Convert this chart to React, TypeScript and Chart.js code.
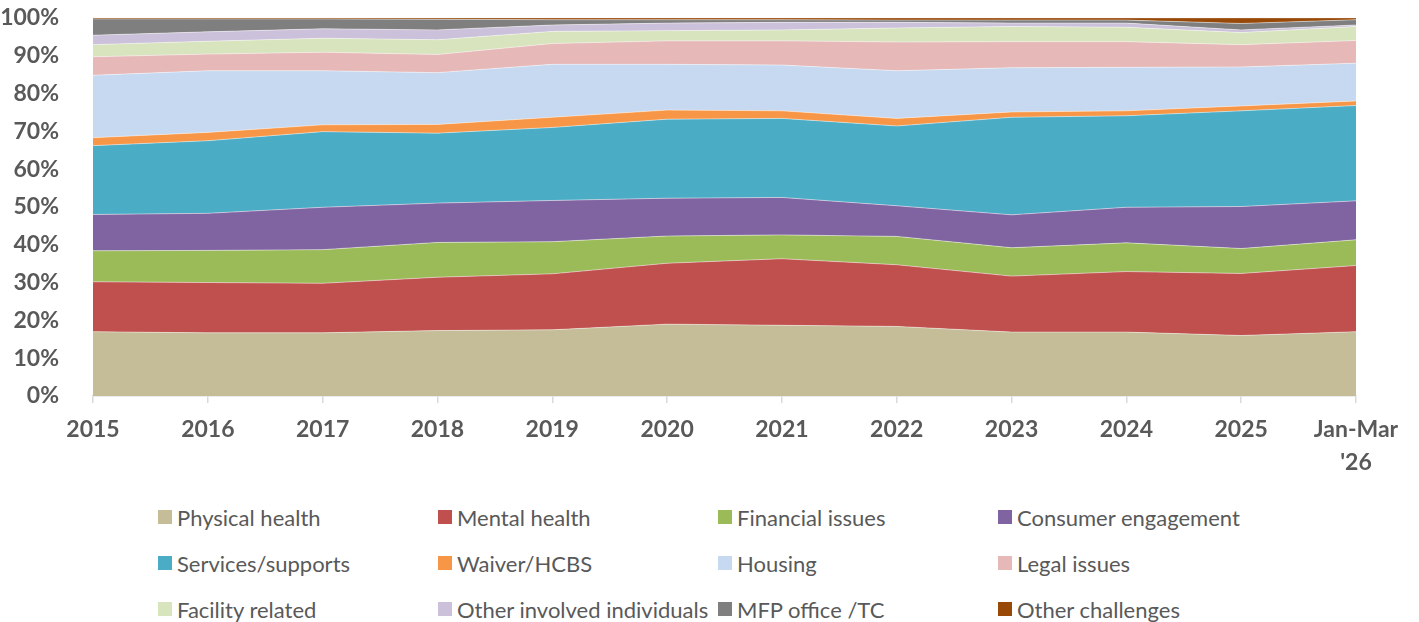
import React, { useEffect, useRef } from "react";
import { Chart, registerables } from "chart.js";

Chart.register(...registerables);

const categories: (string | string[])[] = [
  "2015", "2016", "2017", "2018", "2019", "2020", "2021", "2022", "2023", "2024", "2025", ["Jan-Mar", "'26"],
];

const physicalHealth = [17.0, 16.7, 16.7, 17.3, 17.5, 19.0, 18.7, 18.4, 16.9, 16.9, 16.0, 17.0];
const mentalHealth = [13.2, 13.3, 13.1, 14.1, 14.8, 16.1, 17.6, 16.3, 14.8, 16.0, 16.4, 17.5];
const financialIssues = [8.2, 8.5, 8.9, 9.2, 8.5, 7.2, 6.3, 7.5, 7.5, 7.6, 6.6, 6.8];
const consumerEngagement = [9.6, 9.8, 11.2, 10.4, 10.9, 10.0, 9.9, 8.1, 8.7, 9.4, 11.1, 10.3];
const servicesSupports = [18.2, 19.2, 20.0, 18.5, 19.3, 20.9, 20.9, 21.1, 25.8, 24.2, 25.3, 25.2];
const waiverHcbs = [2.1, 2.2, 1.8, 2.3, 2.7, 2.4, 2.0, 2.0, 1.4, 1.3, 1.3, 1.2];
const housing = [16.5, 16.3, 14.3, 13.7, 14.0, 12.1, 12.1, 12.6, 11.7, 11.5, 10.3, 10.0];
const legalIssues = [4.9, 4.4, 4.9, 4.8, 5.5, 6.2, 6.4, 7.6, 6.9, 6.8, 5.9, 6.0];
const facilityRelated = [3.2, 3.4, 3.7, 3.9, 3.2, 2.7, 2.9, 3.7, 4.0, 3.8, 3.2, 3.7];
const otherInvolved = [2.5, 2.5, 2.5, 2.6, 1.7, 2.0, 2.0, 1.5, 0.9, 1.1, 0.7, 0.4];
const mfpOffice = [4.3, 3.4, 2.6, 2.8, 1.4, 0.9, 0.7, 0.6, 0.8, 0.8, 1.7, 1.4];
const otherChallenges = [0.3, 0.3, 0.3, 0.4, 0.5, 0.5, 0.5, 0.6, 0.6, 0.6, 1.5, 0.5];

const seriesNames = [
  "Physical health", "Mental health", "Financial issues", "Consumer engagement",
  "Services/supports", "Waiver/HCBS", "Housing", "Legal issues",
  "Facility related", "Other involved individuals", "MFP office /TC", "Other challenges",
];
const seriesValues = [
  physicalHealth, mentalHealth, financialIssues, consumerEngagement,
  servicesSupports, waiverHcbs, housing, legalIssues,
  facilityRelated, otherInvolved, mfpOffice, otherChallenges,
];
const seriesColors = [
  "#C4BD97", "#C0504D", "#9BBB59", "#8064A2",
  "#4BACC6", "#F79646", "#C6D9F1", "#E6B9B8",
  "#D7E4BD", "#CCC1DA", "#7F7F7F", "#984807",
];

const yTicks = [0, 10, 20, 30, 40, 50, 60, 70, 80, 90, 100];

const FONT = "Lato, 'Open Sans', sans-serif";
const TEXT = "#595959";
const SHIFT = 22;

export default function App() {
  const canvasRef = useRef<HTMLCanvasElement | null>(null);

  useEffect(() => {
    const canvas = canvasRef.current;
    if (!canvas) return;
    const chart = new Chart(canvas, {
      type: "line",
      data: {
        labels: categories as any,
        datasets: seriesNames.map((name, i) => ({
          label: name,
          data: seriesValues[i],
          backgroundColor: seriesColors[i],
          borderColor: "rgba(255,255,255,0.45)",
          borderWidth: 1,
          pointRadius: 0,
          pointHoverRadius: 0,
          tension: 0,
          fill: i === 0 ? "origin" : "-1",
        })),
      },
      options: {
        responsive: false,
        animation: false,
        events: [],
        layout: { padding: { top: 18, right: 63, left: 0, bottom: 0 } },
        plugins: {
          legend: { display: false },
          tooltip: { enabled: false },
        },
        scales: {
          x: {
            grid: {
              display: true,
              drawOnChartArea: false,
              drawTicks: true,
              tickLength: 7,
              color: "#D9D9D9",
              lineWidth: 1.5,
            },
            border: { display: true, color: "#D9D9D9", width: 1.5 },
            ticks: {
              autoSkip: false,
              maxRotation: 0,
              minRotation: 0,
              padding: 10,
              color: TEXT,
              font: { family: FONT, size: 23, weight: "bold", lineHeight: 1.43 },
            },
            afterFit: (scale: any) => {
              scale.height = 84;
            },
          },
          y: {
            stacked: true,
            min: 0,
            max: 100,
            grid: { display: false },
            border: { display: false },
            afterBuildTicks: (scale: any) => {
              scale.ticks = yTicks.map((v) => ({ value: v }));
            },
            ticks: {
              padding: 26,
              color: TEXT,
              font: { family: FONT, size: 23, weight: "bold" },
              callback: (v: any) => `${v}%`,
            },
            afterFit: (scale: any) => {
              scale.width = 93;
            },
          },
        },
      },
    });
    return () => chart.destroy();
  }, []);

  const legendCols = [158, 438, 718, 998];
  const legendRows = [517, 563, 609];

  return (
    <div style={{ position: "fixed", left: 0, top: 0, width: 1419, height: 622, background: "#fff", overflow: "hidden" }}>
      <canvas
        ref={canvasRef}
        width={1419}
        height={480 + SHIFT}
        style={{ position: "absolute", left: 0, top: -SHIFT }}
      />
      {seriesNames.map((name, i) => {
        const col = i % 4;
        const row = Math.floor(i / 4);
        return (
          <div
            key={name}
            style={{
              position: "absolute",
              left: legendCols[col],
              top: legendRows[row] - 15,
              height: 30,
              display: "flex",
              alignItems: "center",
              whiteSpace: "nowrap",
              fontFamily: FONT,
              fontSize: 22,
              color: TEXT,
            }}
          >
            <span style={{ display: "inline-block", width: 14, height: 14, background: seriesColors[i], marginRight: 5, flex: "none" }} />
            <span>{name}</span>
          </div>
        );
      })}
    </div>
  );
}
